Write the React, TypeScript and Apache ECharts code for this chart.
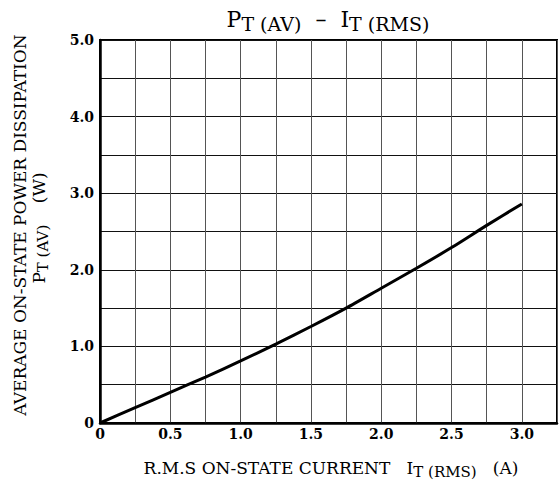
import React, { useEffect, useRef } from "react";
import * as echarts from "echarts";

const currentA = [0, 0.25, 0.5, 0.75, 1.0, 1.25, 1.5, 1.75, 2.0, 2.25, 2.5, 2.75, 3.0];
const powerW = [0, 0.2, 0.4, 0.6, 0.81, 1.03, 1.26, 1.5, 1.76, 2.02, 2.29, 2.58, 2.86];
const xTickLabels = ["0", "0.5", "1.0", "1.5", "2.0", "2.5", "3.0"];
const yTickLabels = ["0", "1.0", "2.0", "3.0", "4.0", "5.0"];

const FONT = "DejaVu Serif";

export default function App() {
  const ref = useRef<HTMLDivElement>(null);
  useEffect(() => {
    if (!ref.current) return;
    const chart = echarts.init(ref.current, null, { renderer: "svg" });
    const titleRich = {
      p: { fontFamily: FONT, fontSize: 22, lineHeight: 28, color: "#000", verticalAlign: "middle" },
      s: { fontFamily: FONT, fontSize: 19, lineHeight: 20, color: "#000", verticalAlign: "bottom" },
      n: { fontFamily: FONT, fontSize: 22, lineHeight: 28, color: "#000", verticalAlign: "middle" },
    };
    const labRich = {
      p: { fontFamily: FONT, fontSize: 17, lineHeight: 22, color: "#000", verticalAlign: "middle" },
      s: { fontFamily: FONT, fontSize: 15, lineHeight: 14, color: "#000", verticalAlign: "bottom" },
      n: { fontFamily: FONT, fontSize: 17, lineHeight: 22, color: "#000", verticalAlign: "middle" },
    };
    chart.setOption({
      animation: false,
      backgroundColor: "#fff",
      grid: {
        left: 100,
        top: 40,
        width: 461,
        height: 383,
        show: true,
        borderColor: "#000",
        borderWidth: 2,
        backgroundColor: "transparent",
      },
      xAxis: {
        type: "value",
        min: 0,
        max: 3.25,
        interval: 0.25,
        axisLine: { show: true, lineStyle: { color: "#000", width: 2.5 } },
        axisTick: { show: false },
        splitLine: { show: true, lineStyle: { color: "#555", width: 1 } },
        axisLabel: {
          margin: 4,
          fontFamily: FONT,
          fontSize: 14,
          fontWeight: "bold",
          color: "#000",
          showMaxLabel: true,
          formatter: (v: number) => {
            const i = Math.round(v / 0.5);
            if (Math.abs(v - i * 0.5) > 1e-6) return "";
            return xTickLabels[i] ?? "";
          },
        },
      },
      yAxis: {
        type: "value",
        min: 0,
        max: 5,
        interval: 0.5,
        axisLine: { show: true, lineStyle: { color: "#000", width: 2.5 } },
        axisTick: { show: false },
        splitLine: { show: true, lineStyle: { color: "#111", width: 1 } },
        axisLabel: {
          margin: 6,
          fontFamily: FONT,
          fontSize: 14,
          fontWeight: "bold",
          color: "#000",
          formatter: (v: number) => {
            const i = Math.round(v);
            if (Math.abs(v - i) > 1e-6) return "";
            return yTickLabels[i] ?? "";
          },
        },
      },
      series: [
        {
          type: "line",
          data: currentA.map((x, i) => [x, powerW[i]]),
          smooth: 0.25,
          symbol: "none",
          lineStyle: { color: "#000", width: 3 },
        },
      ],
      graphic: [
        {
          type: "text",
          x: 328,
          y: 19,
          style: {
            text: "{p|P}{s|T (AV)}{n|  –  }{p|I}{s|T (RMS)}",
            rich: titleRich,
            align: "center",
            verticalAlign: "middle",
          },
        },
        {
          type: "text",
          x: 331,
          y: 468,
          style: {
            text: "{n|R.M.S ON-STATE CURRENT   }{p|I}{s|T (RMS)}{n|   (A)}",
            rich: labRich,
            align: "center",
            verticalAlign: "middle",
          },
        },
        {
          type: "text",
          x: 20,
          y: 225,
          rotation: Math.PI / 2,
          style: {
            text: "{n|AVERAGE ON-STATE POWER DISSIPATION}",
            rich: labRich,
            align: "center",
            verticalAlign: "middle",
          },
        },
        {
          type: "text",
          x: 39,
          y: 228,
          rotation: Math.PI / 2,
          style: {
            text: "{p|P}{s|T (AV)}{n|    (W)}",
            rich: labRich,
            align: "center",
            verticalAlign: "middle",
          },
        },
      ],
    });
    return () => chart.dispose();
  }, []);
  return (
    <div
      ref={ref}
      style={{ position: "fixed", left: 0, top: 0, width: 560, height: 491, background: "#fff" }}
    />
  );
}
